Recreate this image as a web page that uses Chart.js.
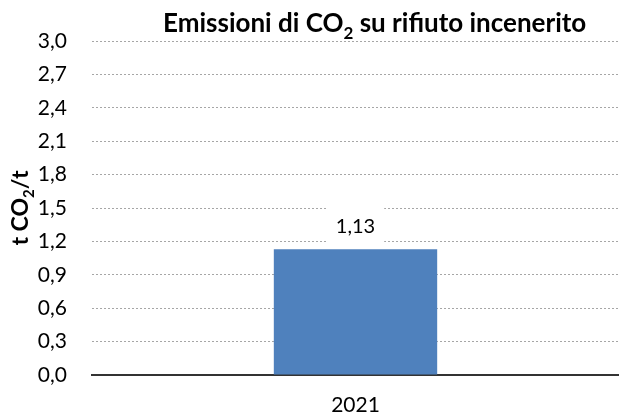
<!DOCTYPE html>
<html>
<head>
<meta charset="utf-8">
<script src="https://cdn.jsdelivr.net/npm/chart.js@4.4.1/dist/chart.umd.min.js"></script>
<style>
  html, body { margin: 0; padding: 0; background: #fff; }
</style>
</head>
<body>
<canvas id="chart" width="619" height="416"></canvas>
<script>
// emissions per tonne of incinerated waste
const years = ["2021"];
const emissions = [1.13];
const yTicks = [0, 0.3, 0.6, 0.9, 1.2, 1.5, 1.8, 2.1, 2.4, 2.7, 3.0];

const FONT = "Lato";
const fmt = (v, d) => v.toFixed(d).replace(".", ",");

// draws "text" runs where sub:true runs are subscripts
const drawRuns = (ctx, runs, x, y, size) => {
  let cx = x;
  runs.forEach(r => {
    const s = r.sub ? Math.round(size * 0.65) : size;
    ctx.font = `bold ${s}px ${FONT}`;
    ctx.fillText(r.text, cx, r.sub ? y + size * 0.28 : y);
    cx += ctx.measureText(r.text).width;
  });
  return cx - x;
};
const runsWidth = (ctx, runs, size) => {
  let w = 0;
  runs.forEach(r => {
    ctx.font = `bold ${r.sub ? Math.round(size * 0.65) : size}px ${FONT}`;
    w += ctx.measureText(r.text).width;
  });
  return w;
};

const titleRuns = [{ text: "Emissioni di CO" }, { text: "2", sub: true }, { text: " su rifiuto incenerito" }];
const yTitleRuns = [{ text: "t CO" }, { text: "2", sub: true }, { text: "/t" }];

const titlesPlugin = {
  id: "titles",
  afterDraw(chart) {
    const ctx = chart.ctx;
    ctx.save();
    ctx.fillStyle = "#000";
    ctx.textBaseline = "alphabetic";
    ctx.textAlign = "left";
    drawRuns(ctx, titleRuns, 163, 32, 26);

    // rotated axis title
    const size = 23;
    const w = runsWidth(ctx, yTitleRuns, size);
    ctx.translate(28, 208);
    ctx.rotate(-Math.PI / 2);
    drawRuns(ctx, yTitleRuns, -w / 2, 0, size);
    ctx.restore();
  }
};

// value label on a white box above each bar
const valueLabels = {
  id: "valueLabels",
  afterDatasetsDraw(chart) {
    const ctx = chart.ctx;
    const meta = chart.getDatasetMeta(0);
    ctx.save();
    meta.data.forEach((bar, i) => {
      const text = fmt(emissions[i], 2);
      ctx.font = `20px ${FONT}`;
      const w = ctx.measureText(text).width;
      ctx.fillStyle = "#fff";
      ctx.fillRect(bar.x - w / 2 - 9, bar.y - 45, w + 18, 41);
      ctx.fillStyle = "#000";
      ctx.textAlign = "center";
      ctx.textBaseline = "middle";
      ctx.fillText(text, bar.x, bar.y - 23);
    });
    ctx.restore();
  }
};

new Chart(document.getElementById("chart"), {
  type: "bar",
  data: {
    labels: years,
    datasets: [{
      data: emissions,
      backgroundColor: "#4F81BD",
      categoryPercentage: 1,
      barPercentage: 0.31
    }]
  },
  options: {
    responsive: false,
    devicePixelRatio: 1,
    animation: false,
    layout: { padding: { top: 41, right: 0, left: 0, bottom: 0 } },
    plugins: {
      legend: { display: false },
      tooltip: { enabled: false }
    },
    scales: {
      x: {
        grid: { display: false },
        border: { display: true, color: "#333", width: 2 },
        ticks: { color: "#000", font: { family: FONT, size: 21 }, padding: 10 },
        afterFit: s => { s.height = 41; }
      },
      y: {
        min: 0,
        max: 3,
        afterBuildTicks: s => { s.ticks = yTicks.map(v => ({ value: v })); },
        grid: {
          drawTicks: false,
          color: c => (c.tick && c.tick.value === 0 ? "rgba(0,0,0,0)" : "#a6a6a6"),
          lineWidth: 1
        },
        border: { display: false, dash: [2, 2] },
        ticks: {
          color: "#000",
          font: { family: FONT, size: 21 },
          padding: 25,
          callback: v => fmt(v, 1)
        },
        afterFit: s => { s.width = 92; }
      }
    }
  },
  plugins: [titlesPlugin, valueLabels]
});
</script>
</body>
</html>
